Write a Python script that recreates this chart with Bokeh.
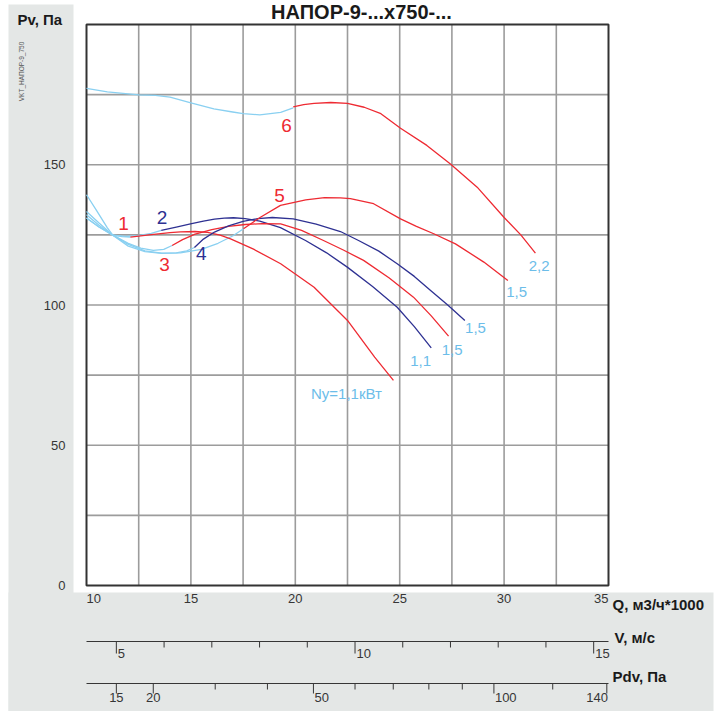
import math
from bokeh.plotting import figure
from bokeh.models import Range1d
from bokeh.core.properties import value
from bokeh.embed import file_html
from bokeh.resources import INLINE

# ---------------- texts ----------------
TITLE = "НАПОР-9-...х750-..."
SIDE_CODE = "VKT_НАПОР-9_750"
Y_LABEL = "Pv, Па"
Q_LABEL = "Q, м3/ч*1000"
V_LABEL = "V, м/с"
PDV_LABEL = "Pdv, Па"

# ---------------- axes / tick data ----------------
q_ticks = [10, 15, 20, 25, 30, 35]
p_ticks = [0, 50, 100, 150]
q_grid_step = 2.5
p_grid_step = 25
v_ticks = [5, 6, 7, 8, 9, 10, 11, 12, 13, 14, 15]
v_labeled = [5, 10, 15]
pdv_ticks = [15, 20, 30, 40, 50, 60, 70, 80, 90, 100, 120, 140]
pdv_labeled = [15, 20, 50, 100, 140]
duct_area = 0.635      # m2, links Q and V
air_density = 1.2      # kg/m3, links V and Pdv

# ---------------- curves (Q thousand m3/h, Pv Pa) ----------------
# curve 1
c1_lb_q = [10.0, 10.6, 11.26, 11.7, 12.1]
c1_lb_p = [133.3, 129.2, 124.9, 124.4, 124.2]
c1_q = [12.1, 13.0, 14.0, 14.5, 15.2, 15.8, 16.4, 16.9, 18.0, 19.3, 20.9, 22.5, 23.8, 24.7]
c1_p = [124.2, 125.0, 125.8, 126.1, 126.2, 125.9, 124.9, 123.6, 119.9, 114.7, 106.3, 94.5, 81.4, 73.1]
# curve 2
c2_lb_q = [10.0, 10.6, 11.26, 11.9, 12.54, 13.1, 13.58]
c2_lb_p = [132.2, 128.4, 124.9, 124.5, 124.8, 125.5, 126.6]
c2_q = [13.58, 14.3, 14.98, 15.6, 16.13, 16.6, 17.04, 17.6, 18.3, 19.29, 20.49, 21.5, 22.49, 23.7, 24.88, 25.7, 26.51]
c2_p = [126.6, 127.8, 128.9, 129.9, 130.6, 131.0, 131.1, 130.8, 129.9, 127.6, 123.0, 118.6, 113.5, 106.6, 99.2, 92.3, 84.7]
# curve 3
c3_lb_q = [10.0, 10.6, 11.26, 12.0, 12.6, 13.2, 13.7, 14.1]
c3_lb_p = [131.0, 127.8, 124.9, 122.0, 120.3, 119.5, 119.8, 121.2]
c3_q = [14.1, 14.6, 15.2, 16.0, 16.8, 17.6, 18.4, 19.3, 20.3, 21.35, 22.3, 23.27, 24.5, 25.66, 26.5, 27.34]
c3_p = [121.2, 123.3, 125.3, 126.9, 128.0, 128.7, 129.0, 128.9, 126.6, 123.0, 119.6, 115.9, 109.6, 102.8, 96.2, 88.9]
# curve 4
c4_lb_q = [10.0, 10.6, 11.26, 12.0, 12.8, 13.6, 14.3, 14.8, 15.17]
c4_lb_p = [131.0, 127.8, 124.9, 121.6, 119.3, 118.5, 118.6, 119.3, 120.5]
c4_q = [15.17, 15.6, 16.13, 16.8, 17.5, 18.2, 18.9, 19.9, 21.0, 22.16, 23.03, 24.0, 24.88, 25.7, 26.48, 27.3, 28.12]
c4_p = [120.5, 123.5, 126.0, 128.2, 129.8, 130.8, 131.2, 130.7, 128.8, 126.2, 123.0, 119.2, 114.7, 110.2, 105.2, 100.0, 94.5]
# curve 5
c5_lb_q = [10.0, 10.5, 11.0, 11.26, 12.0, 12.8, 13.6, 14.5, 15.5, 16.3, 17.0, 17.52]
c5_lb_p = [139.3, 133.5, 127.5, 124.9, 121.0, 119.0, 118.4, 118.6, 119.8, 122.0, 124.6, 127.2]
c5_q = [17.52, 18.33, 19.29, 20.5, 21.4, 22.16, 22.64, 23.75, 25.04, 25.8, 26.63, 27.67, 29.03, 30.18]
c5_p = [127.2, 131.3, 135.5, 137.5, 138.3, 138.2, 137.9, 136.1, 130.7, 128.0, 125.4, 121.8, 115.3, 108.7]
# curve 6
c6_lb_q = [10.0, 11.0, 12.5, 13.3, 14.0, 15.0, 16.1, 17.0, 17.5, 18.3, 19.3, 19.9]
c6_lb_p = [177.2, 176.0, 174.9, 174.7, 174.1, 172.1, 169.9, 168.8, 168.2, 167.8, 168.7, 170.3]
c6_q = [19.9, 20.4, 20.9, 21.7, 22.5, 23.3, 24.1, 25.04, 26.3, 27.43, 28.71, 29.99, 30.8, 31.5]
c6_p = [170.6, 171.4, 171.9, 172.2, 171.9, 170.5, 168.2, 163.0, 156.9, 150.3, 142.0, 131.3, 125.0, 118.5]

# curve labels
num_text = ["1", "2", "3", "4", "5", "6"]
num_q = [11.77, 13.62, 13.74, 15.5, 19.24, 19.58]
num_p = [129.2, 131.2, 114.4, 118.3, 139.0, 163.9]
num_kind = ["red", "navy", "red", "navy", "red", "red"]

pow_text = ["Ny=1,1кВт", "1,1", "1,5", "1,5", "1,5", "2,2"]
pow_q = [22.45, 26.0, 27.51, 28.63, 30.6, 31.68]
pow_p = [68.4, 79.9, 84.1, 91.8, 104.6, 113.8]

# ---------------- styles ----------------
GRAY = "#e4e7e6"
LB = "#8ad0f1"
LB_TXT = "#6cbde9"
RED = "#ee2a32"
NAVY = "#2e3192"
INK = "#363636"
DARK = "#1a1a1a"
GRID = "#9c9c9c"
SANS = "Liberation Sans"

W, H = 723, 711
# page geometry of the plot frame (page px)
FR_L, FR_R, FR_T, FR_B = 86, 608, 24, 585
Q0, Q1, P0, P1 = 10, 35, 0, 200


def q_at(px):
    return Q0 + (px - FR_L) * (Q1 - Q0) / (FR_R - FR_L)


def p_at(py):
    return P0 + (FR_B - py) * (P1 - P0) / (FR_B - FR_T)


px_q = (Q1 - Q0) / (FR_R - FR_L)   # Q units per pixel

p = figure(width=W, height=H, x_range=Range1d(q_at(0), q_at(W)), y_range=Range1d(p_at(H), p_at(0)),
           output_backend="svg", toolbar_location=None, min_border=0,
           background_fill_color="white", border_fill_color="white", outline_line_color=None)
p.axis.visible = False
p.grid.visible = False

# gray side bands
p.quad(left=[q_at(8), q_at(8)], right=[q_at(73), q_at(713)],
       bottom=[p_at(H), p_at(H)], top=[p_at(4), p_at(592)],
       fill_color=GRAY, line_color=None)

# grid of the chart area
n_qg = int(round((Q1 - Q0) / q_grid_step))
n_pg = int(round((P1 - P0) / p_grid_step))
qg = [Q0 + i * q_grid_step for i in range(1, n_qg)]
pg = [P0 + i * p_grid_step for i in range(1, n_pg)]
p.segment(x0=qg, y0=[P0] * len(qg), x1=qg, y1=[P1] * len(qg), line_color=GRID, line_width=1.6)
p.segment(x0=[Q0] * len(pg), y0=pg, x1=[Q1] * len(pg), y1=pg, line_color=GRID, line_width=1.6)
p.quad(left=[Q0], right=[Q1], bottom=[P0], top=[P1], fill_color=None,
       line_color="#333333", line_width=2)

# curves
lw = 1.3
for q, pv in [(c1_lb_q, c1_lb_p), (c2_lb_q, c2_lb_p), (c3_lb_q, c3_lb_p),
              (c4_lb_q, c4_lb_p), (c5_lb_q, c5_lb_p), (c6_lb_q, c6_lb_p)]:
    p.line(q, pv, line_color=LB, line_width=lw)
for q, pv, c in [(c1_q, c1_p, RED), (c2_q, c2_p, NAVY), (c3_q, c3_p, RED),
                 (c4_q, c4_p, NAVY), (c5_q, c5_p, RED), (c6_q, c6_p, RED)]:
    p.line(q, pv, line_color=c, line_width=lw)

for kind, col in (("red", RED), ("navy", NAVY)):
    idx = [i for i, k in enumerate(num_kind) if k == kind]
    p.text(x=[num_q[i] for i in idx], y=[num_p[i] for i in idx], text=[num_text[i] for i in idx],
           text_font=value(SANS), text_font_size="19px", text_color=col,
           text_align="center", text_baseline="middle")
p.text(x=pow_q, y=pow_p, text=pow_text, text_font=value(SANS), text_font_size="15px",
       text_color=LB_TXT, text_align="center", text_baseline="middle")

# title
p.text(x=[q_at(361)], y=[p_at(11.5)], text=[TITLE], text_font=value(SANS), text_font_style="bold",
       text_font_size="20px", text_color=DARK, text_align="center", text_baseline="middle")

# Pv axis labels (left band)
p.text(x=[q_at(65)] * len(p_ticks), y=p_ticks, text=[str(v) for v in p_ticks],
       text_font=value(SANS), text_font_size="13px", text_color=INK,
       text_align="right", text_baseline="middle")
p.text(x=[q_at(17)], y=[p_at(19)], text=[Y_LABEL], text_font=value(SANS), text_font_style="bold",
       text_font_size="15px", text_color=DARK, text_align="left", text_baseline="middle")
p.text(x=[q_at(21)], y=[p_at(71)], text=[SIDE_CODE], text_font=value(SANS), text_font_size="6.5px",
       text_color="#555555", text_align="center", text_baseline="middle", angle=math.pi / 2)

tick_font = dict(text_font=value(SANS), text_font_size="13px", text_color=INK,
                 text_baseline="middle")
title_font = dict(text_font=value(SANS), text_font_style="bold", text_font_size="15px",
                  text_color=DARK, text_align="left", text_baseline="middle")

# Q tick labels
QL_Y = p_at(597.5)
p.text(x=q_ticks[:1], y=[QL_Y], text=[str(q_ticks[0])], text_align="left", **tick_font)
p.text(x=q_ticks[1:-1], y=[QL_Y] * (len(q_ticks) - 2), text=[str(v) for v in q_ticks[1:-1]],
       text_align="center", **tick_font)
p.text(x=q_ticks[-1:], y=[QL_Y], text=[str(q_ticks[-1])], text_align="right", **tick_font)
p.text(x=[q_at(612)], y=[p_at(603.5)], text=[Q_LABEL], **title_font)

# V scale
k_qv = 3.6 * duct_area
V_Y = 641
v_q = [v * k_qv for v in v_ticks]
p.segment(x0=[Q0], y0=[p_at(V_Y)], x1=[Q1], y1=[p_at(V_Y)], line_color=INK, line_width=1)
p.segment(x0=v_q, y0=[p_at(V_Y)] * len(v_q), x1=v_q,
          y1=[p_at(V_Y + (12 if v in v_labeled else 6)) for v in v_ticks], line_color=INK, line_width=1)
p.text(x=[v * k_qv + 1.5 * px_q for v in v_labeled], y=[p_at(652.5)] * len(v_labeled),
       text=[str(v) for v in v_labeled], text_align="left", **tick_font)
p.text(x=[q_at(614)], y=[p_at(636.5)], text=[V_LABEL], **title_font)

# Pdv scale
D_Y = 683
pdv_q = [math.sqrt(2 * d / air_density) * k_qv for d in pdv_ticks]
p.segment(x0=[Q0], y0=[p_at(D_Y)], x1=[Q1], y1=[p_at(D_Y)], line_color=INK, line_width=1)
p.segment(x0=pdv_q, y0=[p_at(D_Y)] * len(pdv_q), x1=pdv_q,
          y1=[p_at(D_Y + (10 if d in pdv_labeled else 6)) for d in pdv_ticks], line_color=INK, line_width=1)
lab_q = {d: math.sqrt(2 * d / air_density) * k_qv for d in pdv_labeled}
center_l = [d for d in pdv_labeled if d < 50]
left_l = [d for d in pdv_labeled if 50 <= d < pdv_labeled[-1]]
DL_Y = p_at(697)
p.text(x=[lab_q[d] for d in center_l], y=[DL_Y] * len(center_l), text=[str(d) for d in center_l],
       text_align="center", **tick_font)
p.text(x=[lab_q[d] + 1 * px_q for d in left_l], y=[DL_Y] * len(left_l), text=[str(d) for d in left_l],
       text_align="left", **tick_font)
p.text(x=[Q1 - 0.5 * px_q], y=[DL_Y], text=[str(pdv_labeled[-1])], text_align="right", **tick_font)
p.text(x=[q_at(612)], y=[p_at(676)], text=[PDV_LABEL], **title_font)

open("out.html", "w").write(file_html(p, INLINE))
